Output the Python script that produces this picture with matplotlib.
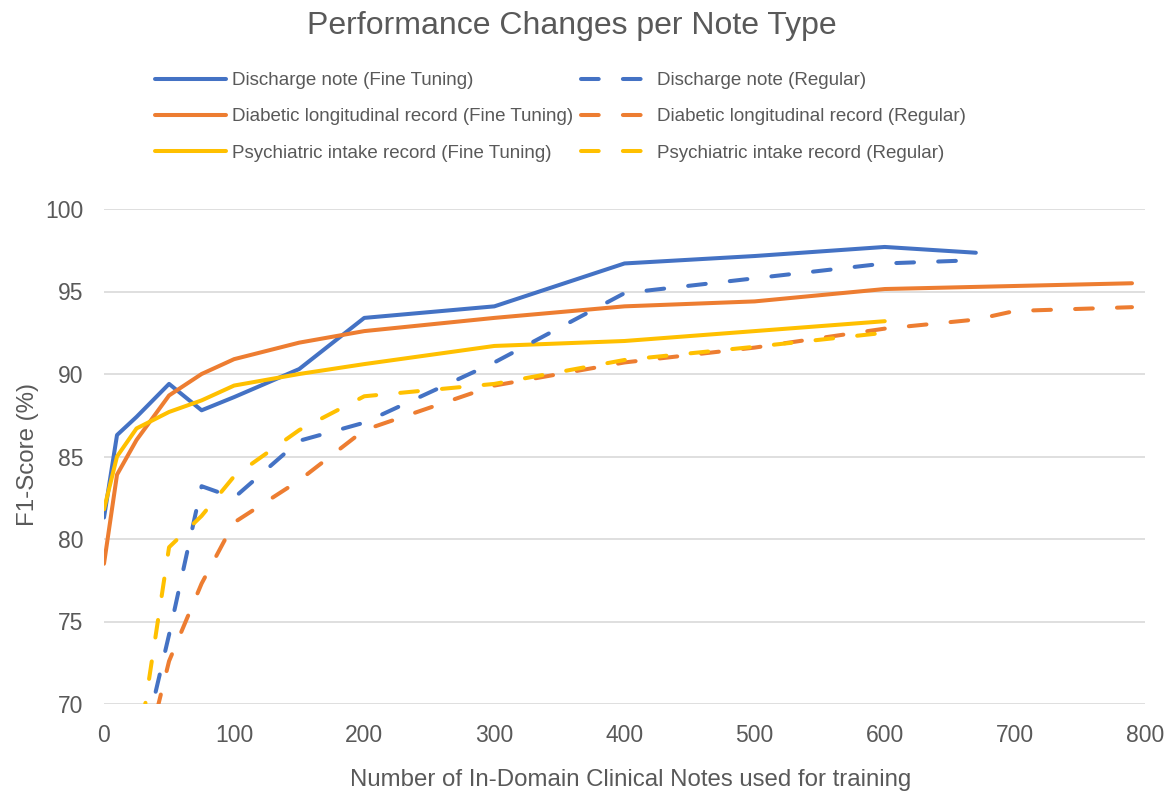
import matplotlib
matplotlib.use("Agg")
import matplotlib.pyplot as plt

plt.rcParams["font.family"] = ["Liberation Sans", "DejaVu Sans"]

TEXT = "#595959"
BLUE, ORANGE, YELLOW = "#4472C4", "#ED7D31", "#FFC000"

# Fine tuning series
discharge_ft_x = [0, 10, 25, 50, 75, 100, 150, 200, 300, 400, 500, 600, 670]
discharge_ft_y = [81.3, 86.3, 87.4, 89.4, 87.8, 88.6, 90.3, 93.4, 94.1, 96.7, 97.15, 97.7, 97.35]

diabetic_ft_x = [0, 10, 25, 50, 75, 100, 150, 200, 300, 400, 500, 600, 790]
diabetic_ft_y = [78.5, 83.9, 86.0, 88.7, 90.0, 90.9, 91.9, 92.6, 93.4, 94.1, 94.4, 95.15, 95.5]

psych_ft_x = [0, 10, 25, 50, 75, 100, 150, 200, 300, 400, 500, 600]
psych_ft_y = [81.8, 85.0, 86.7, 87.7, 88.4, 89.3, 90.0, 90.6, 91.7, 92.0, 92.6, 93.2]

# Regular series (early values fall below the 70 axis floor)
discharge_reg_x = [25, 50, 75, 100, 150, 200, 300, 400, 500, 600, 670]
discharge_reg_y = [65.8, 74.2, 83.2, 82.5, 85.95, 87.05, 90.7, 94.9, 95.8, 96.7, 96.9]

diabetic_reg_x = [25, 50, 75, 100, 150, 200, 300, 400, 500, 600, 670, 700, 790]
diabetic_reg_y = [64.6, 72.6, 77.3, 81.0, 83.55, 86.6, 89.3, 90.7, 91.6, 92.75, 93.3, 93.82, 94.05]

psych_reg_x = [25, 50, 75, 100, 150, 200, 300, 400, 500, 600]
psych_reg_y = [66.5, 79.5, 81.4, 83.8, 86.6, 88.65, 89.4, 90.85, 91.65, 92.5]

x_ticks = list(range(0, 801, 100))
y_ticks = list(range(70, 101, 5))

fig = plt.figure(figsize=(11.69, 7.95), dpi=100)
ax = fig.add_axes([104 / 1169, 1 - 704 / 795, (1145 - 104) / 1169, (704 - 209) / 795])

lw = 2.9
dash = (0, (4.4, 6.0))
h1, = ax.plot(discharge_ft_x, discharge_ft_y, color=BLUE, lw=lw, solid_capstyle="round",
              solid_joinstyle="round", label="Discharge note (Fine Tuning)")
h2, = ax.plot(diabetic_ft_x, diabetic_ft_y, color=ORANGE, lw=lw, solid_capstyle="round",
              solid_joinstyle="round", label="Diabetic longitudinal record (Fine Tuning)")
h3, = ax.plot(psych_ft_x, psych_ft_y, color=YELLOW, lw=lw, solid_capstyle="round",
              solid_joinstyle="round", label="Psychiatric intake record (Fine Tuning)")
h4, = ax.plot(discharge_reg_x, discharge_reg_y, color=BLUE, lw=lw, ls=dash,
              dash_capstyle="round", label="Discharge note (Regular)")
h5, = ax.plot(diabetic_reg_x, diabetic_reg_y, color=ORANGE, lw=lw, ls=dash,
              dash_capstyle="round", label="Diabetic longitudinal record (Regular)")
h6, = ax.plot(psych_reg_x, psych_reg_y, color=YELLOW, lw=lw, ls=dash,
              dash_capstyle="round", label="Psychiatric intake record (Regular)")

ax.set_xlim(0, 800)
ax.set_ylim(70, 100)
ax.set_xticks(x_ticks)
ax.set_yticks(y_ticks)
ax.tick_params(length=0, labelsize=16.5, colors=TEXT)
ax.tick_params(axis="y", pad=15)
ax.tick_params(axis="x", pad=14.5)
ax.grid(axis="y", color="#D9D9D9", lw=1.2)
ax.set_axisbelow(True)
for s in ax.spines.values():
    s.set_visible(False)

fig.text(0.489, 1 - 26 / 795, "Performance Changes per Note Type", ha="center", va="center",
         fontsize=23, color=TEXT)
fig.text(631 / 1169, 1 - 780 / 795, "Number of In-Domain Clinical Notes used for training",
         ha="center", va="center", fontsize=17.3, color=TEXT)
fig.text(28 / 1169, 1 - 455 / 795, "F1-Score (%)", ha="center", va="center", rotation=90,
         fontsize=17.3, color=TEXT)

fig.legend(handles=[h1, h2, h3, h4, h5, h6], ncol=2, loc="upper left",
           bbox_to_anchor=(155 / 1169, 1 - 72 / 795), frameon=False, fontsize=13.5,
           labelcolor=TEXT, handlelength=3.8, handletextpad=0.3, columnspacing=0.4,
           labelspacing=1.02, borderpad=0, borderaxespad=0)

fig.savefig("out.png", dpi=100)
